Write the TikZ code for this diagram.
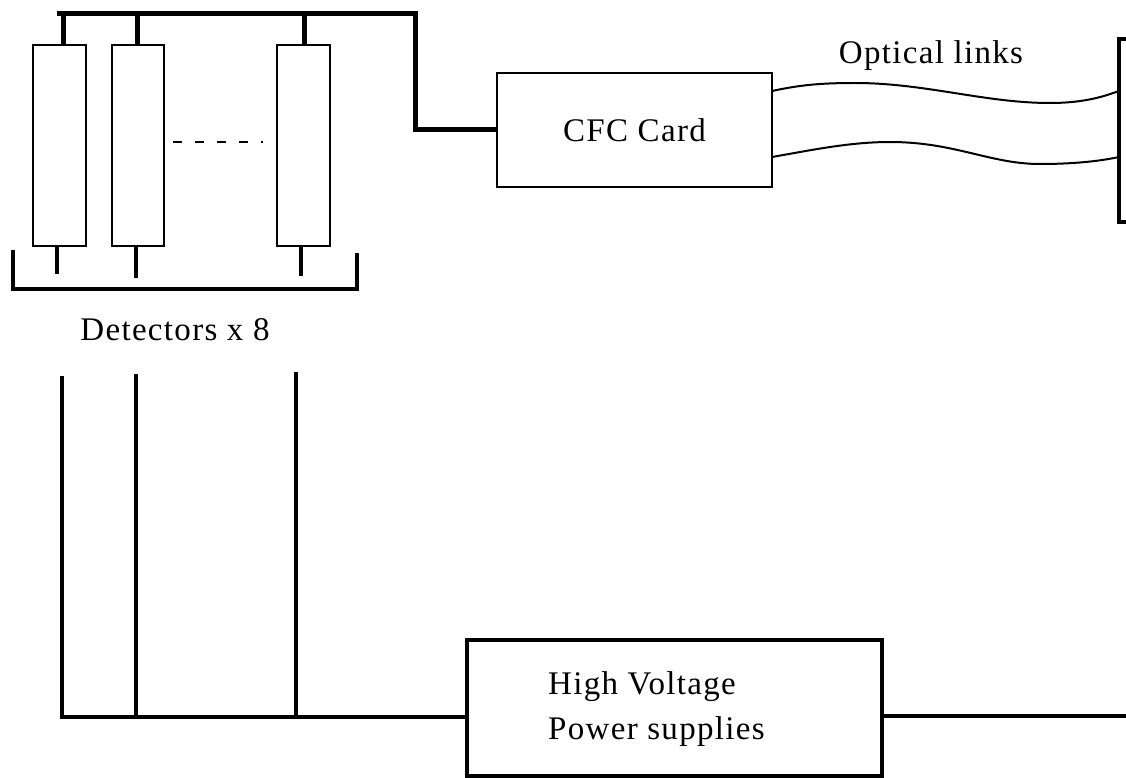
\documentclass[tikz,border=0pt]{standalone}
\usepackage{fontspec}
\setmainfont{Liberation Serif}[LetterSpace=4]
\usetikzlibrary{calc}
\tikzset{
  det/.style={draw, line width=1.8pt, minimum height=201pt, inner sep=0pt, outer sep=0pt},
  bus/.style={line width=5pt},
  stub/.style={line width=4pt},
  bracketline/.style={line width=4pt},
  hvline/.style={line width=3.6pt},
  cardbox/.style={draw, line width=2pt, inner sep=0pt, outer sep=0pt},
  hvbox/.style={draw, line width=3.6pt, inner sep=0pt, outer sep=0pt},
  fiber/.style={line width=2pt},
  lbl/.style={inner sep=0pt, font=\fontsize{33}{45}\selectfont}
}
\begin{document}
\begin{tikzpicture}[x=1pt,y=-1pt]
\useasboundingbox (0,0) rectangle (1126,778);
\clip (0,0) rectangle (1126,778);
\fill[white] (0,0) rectangle (1126,778);

% detectors
\node[det, minimum width=53pt] (d1) at (59.5,145.5) {};
\node[det, minimum width=52pt] (d2) at (138,145.5) {};
\node[det, minimum width=53pt] (d3) at (303.5,145.5) {};
\draw[line width=2.2pt, dash pattern=on 9pt off 13pt] ($(d2.east)+(9,-3.5)$) -- ($(d3.west)+(-14,-3.5)$);

% top bus to CFC card
\node[cardbox, minimum width=275pt, minimum height=114pt, lbl] (cfc) at (634.5,130) {CFC Card};
\coordinate (busL) at (57,14);
\coordinate (busR) at (415,14);
\draw[bus] (busL) -- (busR) |- (cfc.west);
\draw[bus] ($(d1.north)+(3.5,0)$) -- ($(d1.north)+(3.5,-31)$);
\draw[bus] ($(d2.north)+(-1,0)$) -- ($(d2.north)+(-1,-31)$);
\draw[bus] ($(d3.north)+(0.5,0)$) -- ($(d3.north)+(0.5,-31)$);

% bottom stubs
\draw[stub] ($(d1.south)+(-2.5,0)$) -- ++(0,28);
\draw[stub] ($(d2.south)+(-2,0)$) -- ++(0,32);
\draw[stub] ($(d3.south)+(-2.5,0)$) -- ++(0,30);

% bracket
\coordinate (brL) at (13,250);
\coordinate (brR) at (357,253);
\draw[bracketline] (brL) |- (brR |- 0,289) -- (brR);

\node[lbl] (detlbl) at (175,330) {Detectors x 8};

% right-hand box (cut off)
\node[draw, line width=4pt, minimum width=52pt, minimum height=183pt, inner sep=0pt, outer sep=0pt] (rx) at (1145,130.5) {};

% optical links
\draw[fiber] ($(cfc.east)+(0,-39)$) .. controls (800,85) and (820,83) .. (855,83)
  .. controls (925,83) and (985,103) .. (1050,103)
  .. controls (1085,103) and (1105,96) .. ($(rx.west)+(0,-39.5)$);
\draw[fiber] ($(cfc.east)+(0,27)$) .. controls (812,150) and (850,142) .. (890,142)
  .. controls (955,142) and (990,164) .. (1040,164)
  .. controls (1080,164) and (1105,160) .. ($(rx.west)+(0,26.5)$);
\node[lbl] (optlbl) at (931,56) {Optical links};

% high voltage
\node[hvbox, minimum width=415pt, minimum height=136pt] (hv) at (674.5,708) {};
\node[lbl, anchor=west, align=left] (hvlbl) at (548,709) {High Voltage\\Power supplies};
\coordinate (v1) at (62,376);
\coordinate (v2) at (136,374);
\coordinate (v3) at (296,372);
\coordinate (hvin) at ($(hv.west)+(0,9)$);
\draw[hvline] (v1) |- (hvin);
\draw[hvline] (v2) -- (v2 |- hvin);
\draw[hvline] (v3) -- (v3 |- hvin);
\coordinate (hvout) at (1130,716);
\draw[hvline] (hv.east |- hvout) -- (hvout);
\end{tikzpicture}
\end{document}
